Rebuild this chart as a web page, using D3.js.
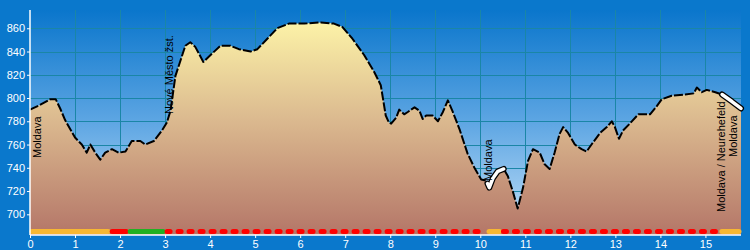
<!DOCTYPE html>
<html>
<head>
<meta charset="utf-8">
<script src="https://cdn.jsdelivr.net/npm/d3@7/dist/d3.min.js"></script>
<style>
body { margin: 0; background: #0a78cc; overflow: hidden; }
svg { display: block; font-family: "Liberation Sans", Arial, sans-serif; }
</style>
</head>
<body>
<svg id="chart" width="750" height="250"></svg>
<script>
// profile: distance in km, elevation in m
var km = [0.00, 0.22, 0.45, 0.57, 0.67, 0.78, 1.00, 1.15, 1.26, 1.34, 1.45, 1.56, 1.67, 1.82, 1.97, 2.12,
	2.26, 2.45, 2.56, 2.75, 2.93, 3.04, 3.12, 3.23, 3.45, 3.56, 3.67, 3.85, 4.01, 4.23, 4.45, 4.64,
	4.90, 5.05, 5.27, 5.49, 5.75, 6.09, 6.46, 6.75, 6.94, 7.16, 7.42, 7.65, 7.79, 7.90, 7.97, 8.02,
	8.13, 8.20, 8.31, 8.39, 8.54, 8.65, 8.72, 8.80, 8.94, 9.06, 9.17, 9.28, 9.39, 9.54, 9.72, 9.87,
	10.02, 10.13, 10.20, 10.28, 10.39, 10.52, 10.61, 10.72, 10.83, 10.95, 11.06, 11.17, 11.32, 11.43,
	11.54, 11.65, 11.76, 11.84, 11.95, 12.10, 12.25, 12.36, 12.47, 12.66, 12.81, 12.92, 12.99, 13.08,
	13.17, 13.32, 13.51, 13.77, 13.92, 14.03, 14.25, 14.55, 14.74, 14.81, 14.92, 15.03, 15.22, 15.37,
	15.59, 15.79];
var ele = [790, 794, 799, 799, 791, 781, 766, 760, 753, 760, 753, 747, 753, 756, 753, 754,
	763, 763, 760, 763, 772, 779, 789, 819, 845, 848, 844, 831, 837, 845, 845, 842,
	840, 842, 851, 860, 864, 864, 865, 864, 861, 851, 837, 822, 811, 785, 779, 778,
	783, 790, 786, 788, 792, 789, 782, 785, 785, 780, 788, 798, 788, 773, 752, 740,
	730, 729, 723, 731, 737, 739, 733, 720, 705, 723, 746, 756, 753, 743,
	739, 753, 769, 775, 770, 760, 756, 754, 760, 770, 775, 780, 775, 765,
	772, 778, 786, 786, 793, 799, 802, 803, 804, 809, 805, 807, 805, 803,
	797, 791];

// white highlighted parts of the profile line
var highlightFrom = [10.16, 15.37];
var highlightTo = [10.52, 15.79];

// surface strip along the bottom
var surfaceFrom = [0, 1.78, 2.18, 3.0, 10.15, 10.47, 15.32];
var surfaceTo = [1.78, 2.18, 3.0, 10.15, 10.47, 15.32, 15.79];
var surfaceKind = ["orange", "red", "green", "reddash", "orange", "reddash", "orange"];

var labelNames = ["Moldava", "Nové Město žst.", "Moldava", "Moldava / Neurehefeld", "Moldava"];
var labelKm = [0, 3.04, 10.13, 15.79, 15.79];

var xTicks = d3.range(0, 16);
var yTicks = [700, 720, 740, 760, 780, 800, 820, 840, 860];

var svg = d3.select("#chart");
var plotLeft = 30, plotRight = 741, plotTop = 10, plotBottom = 235;

var x = d3.scaleLinear().domain([0, 15.79]).range([plotLeft, plotRight]);
var y = d3.scaleLinear().domain([682.2, 875.7]).range([plotBottom, plotTop]);

var profile = km.map(function(k, i) { return [k, ele[i]]; });

function eleAt(k)
{
	var i = d3.bisectLeft(km, k);
	if (i <= 0) return ele[0];
	if (i >= km.length) return ele[ele.length - 1];
	var t = (k - km[i - 1]) / (km[i] - km[i - 1]);
	return ele[i - 1] + t * (ele[i] - ele[i - 1]);
}

function part(a, b)
{
	var pts = [[a, eleAt(a)]];
	profile.forEach(function(p) { if (p[0] > a && p[0] < b) pts.push(p); });
	pts.push([b, eleAt(b)]);
	return pts;
}

// gradients
var defs = svg.append("defs");
var sky = defs.append("linearGradient").attr("id", "sky")
	.attr("gradientUnits", "userSpaceOnUse").attr("x1", 0).attr("x2", 0).attr("y1", plotTop).attr("y2", plotBottom);
sky.append("stop").attr("offset", 0).attr("stop-color", "#0a76cc");
sky.append("stop").attr("offset", 0.5).attr("stop-color", "#5ea6e3");
sky.append("stop").attr("offset", 1).attr("stop-color", "#c2e0f8");

var ground = defs.append("linearGradient").attr("id", "ground")
	.attr("gradientUnits", "userSpaceOnUse").attr("x1", 0).attr("x2", 0).attr("y1", 20).attr("y2", plotBottom);
ground.append("stop").attr("offset", 0).attr("stop-color", "#fdf4a8");
ground.append("stop").attr("offset", 0.45).attr("stop-color", "#dcbb90");
ground.append("stop").attr("offset", 1).attr("stop-color", "#b47668");

svg.append("rect").attr("x", plotLeft).attr("y", plotTop)
	.attr("width", plotRight - plotLeft).attr("height", plotBottom - plotTop).attr("fill", "url(#sky)");

// grid
var grid = svg.append("g").attr("stroke", "#1a86a6").attr("stroke-width", 1);
grid.selectAll("line.v").data(xTicks.slice(1)).enter().append("line")
	.attr("x1", function(d) { return Math.round(x(d)) + 0.5; })
	.attr("x2", function(d) { return Math.round(x(d)) + 0.5; })
	.attr("y1", plotTop).attr("y2", plotBottom);
grid.selectAll("line.h").data(yTicks).enter().append("line")
	.attr("x1", plotLeft).attr("x2", plotRight)
	.attr("y1", function(d) { return Math.round(y(d)) + 0.5; })
	.attr("y2", function(d) { return Math.round(y(d)) + 0.5; });

// terrain
var area = d3.area().x(function(d) { return x(d[0]); }).y0(plotBottom).y1(function(d) { return y(d[1]); });
var line = d3.line().x(function(d) { return x(d[0]); }).y(function(d) { return y(d[1]); });

svg.append("path").datum(profile).attr("d", area).attr("fill", "url(#ground)");
svg.append("path").datum(profile).attr("d", line)
	.attr("fill", "none").attr("stroke", "#000").attr("stroke-width", 2)
	.attr("stroke-dasharray", "9,2").attr("stroke-linejoin", "round");

highlightFrom.forEach(function(a, i) {
	var pts = part(a, highlightTo[i]);
	svg.append("path").datum(pts).attr("d", line).attr("fill", "none")
		.attr("stroke", "#000").attr("stroke-width", 6).attr("stroke-linecap", "round").attr("stroke-linejoin", "round");
	svg.append("path").datum(pts).attr("d", line).attr("fill", "none")
		.attr("stroke", "#fff").attr("stroke-width", 3.5).attr("stroke-linecap", "round").attr("stroke-linejoin", "round");
});

// surface strip
var colors = { orange: "#f7b733", red: "#ff0000", green: "#22b022", reddash: "#ff0000" };
surfaceFrom.forEach(function(a, i) {
	var seg = svg.append("line")
		.attr("x1", x(a) + 2).attr("x2", x(surfaceTo[i]) - 2)
		.attr("y1", 231.5).attr("y2", 231.5)
		.attr("stroke", colors[surfaceKind[i]]).attr("stroke-width", 5).attr("stroke-linecap", "round");
	if (surfaceKind[i] == "reddash") seg.attr("stroke-dasharray", "3,8");
});

// station labels
var labelPlace = [[11, 158], [6, 114], [6, 181], [-16, 212], [-4, 157]];
svg.selectAll("text.station").data(labelNames).enter().append("text")
	.attr("class", "station")
	.attr("transform", function(d, i) {
		return "translate(" + (x(labelKm[i]) + labelPlace[i][0]) + "," + labelPlace[i][1] + ") rotate(-90)";
	})
	.attr("font-size", 11).attr("fill", "#000")
	.text(function(d) { return d; });

// axes
var xAxis = svg.append("g").attr("transform", "translate(0," + plotBottom + ")")
	.call(d3.axisBottom(x).tickValues(xTicks).tickSize(3).tickSizeOuter(0).tickPadding(2));
var yAxis = svg.append("g").attr("transform", "translate(" + plotLeft + ",0)")
	.call(d3.axisLeft(y).tickValues(yTicks).tickSize(3).tickSizeOuter(0).tickPadding(2));

[xAxis, yAxis].forEach(function(ax) {
	ax.select(".domain").attr("stroke", "#fff").attr("stroke-width", 1.5);
	ax.selectAll(".tick line").attr("stroke", "#fff");
	ax.selectAll(".tick text").attr("fill", "#fff").attr("font-size", 11)
		.attr("font-family", "Liberation Sans, Arial, sans-serif");
});
yAxis.select(".domain").attr("d", "M0," + plotTop + "V" + plotBottom);
xAxis.select(".domain").attr("d", "M" + plotLeft + ",0H" + plotRight);
</script>
</body>
</html>
